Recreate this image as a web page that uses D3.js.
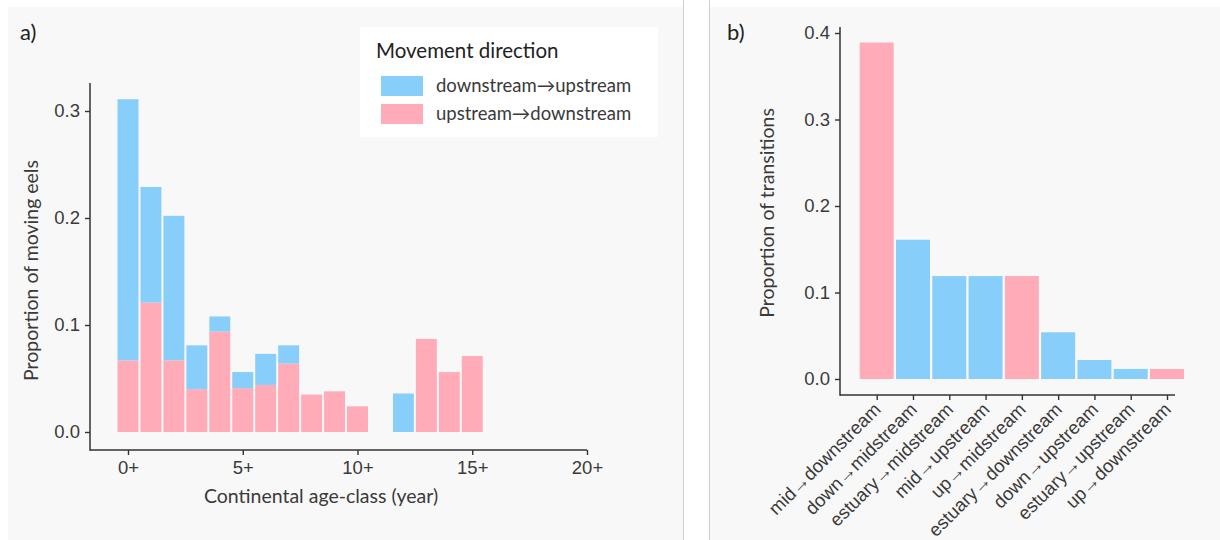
<!DOCTYPE html>
<html>
<head>
<meta charset="utf-8">
<script src="https://cdn.jsdelivr.net/npm/d3@7"></script>
<style>
  html, body { margin: 0; padding: 0; background: #ffffff; }
  svg { display: block; font-family: Lato, "Open Sans", sans-serif; }
  .axis text { fill: #3a3a3a; font-size: 18.5px; }
  .axis line { stroke: #333; stroke-width: 1.4; }
</style>
</head>
<body>
<svg id="chart" width="1220" height="540"></svg>
<script>
// panel a data: continental age-class and stacked proportions
const ageClasses = [0, 1, 2, 3, 4, 5, 6, 7, 8, 9, 10, 11, 12, 13, 14, 15];
const upToDown = [0.067, 0.121, 0.067, 0.040, 0.094, 0.041, 0.044, 0.064, 0.035, 0.038, 0.024, 0, 0, 0.087, 0.056, 0.071];
const downToUp = [0.244, 0.108, 0.135, 0.041, 0.014, 0.015, 0.029, 0.017, 0, 0, 0, 0, 0.036, 0, 0, 0];
const ageTicks = [0, 5, 10, 15, 20];
const yTicksA = [0, 0.1, 0.2, 0.3];

// panel b data: transitions
const transitions = ['mid\u2192downstream', 'down\u2192midstream', 'estuary\u2192midstream', 'mid\u2192upstream',
    'up\u2192midstream', 'estuary\u2192downstream', 'down\u2192upstream', 'estuary\u2192upstream', 'up\u2192downstream'];
const transitionProps = [0.389, 0.161, 0.119, 0.119, 0.119, 0.054, 0.022, 0.0116, 0.0116];
const transitionDir = ['down', 'up', 'up', 'up', 'down', 'up', 'up', 'up', 'down'];
const yTicksB = [0, 0.1, 0.2, 0.3, 0.4];

const legendLabels = ['downstream\u2192upstream', 'upstream\u2192downstream'];

const blue = '#87cefa',
    pink = '#ffabb8';

const svg = d3.select('#chart');

// backgrounds
svg.append('rect').attr('x', 8).attr('y', 7).attr('width', 675).attr('height', 533).attr('fill', '#f8f8f8');
svg.append('rect').attr('x', 710).attr('y', 7).attr('width', 510).attr('height', 533).attr('fill', '#f8f8f8');
svg.append('line').attr('x1', 683.5).attr('x2', 683.5).attr('y1', 0).attr('y2', 540).attr('stroke', '#cfcfcf');
svg.append('line').attr('x1', 709.5).attr('x2', 709.5).attr('y1', 0).attr('y2', 540).attr('stroke', '#cfcfcf');

// ---------- panel a ----------
const pa = { left: 90, right: 587, top: 83, bottom: 450 };
const xA = d3.scaleLinear().domain([0, 20]).range([128, 587]);
const yA = d3.scaleLinear().domain([0, 0.3]).range([432, 111]);

const ga = svg.append('g');

ga.selectAll('rect.pink')
    .data(ageClasses.filter((d, i) => upToDown[i] > 0))
    .join('rect')
    .attr('class', 'pink')
    .attr('x', d => xA(d - 0.5) + 1)
    .attr('width', d => xA(d + 0.5) - xA(d - 0.5) - 2)
    .attr('y', d => yA(upToDown[d]))
    .attr('height', d => yA(0) - yA(upToDown[d]))
    .attr('fill', pink);

ga.selectAll('rect.blue')
    .data(ageClasses.filter((d, i) => downToUp[i] > 0))
    .join('rect')
    .attr('class', 'blue')
    .attr('x', d => xA(d - 0.5) + 1)
    .attr('width', d => xA(d + 0.5) - xA(d - 0.5) - 2)
    .attr('y', d => yA(upToDown[d] + downToUp[d]))
    .attr('height', d => yA(upToDown[d]) - yA(upToDown[d] + downToUp[d]))
    .attr('fill', blue);

ga.append('g').attr('class', 'axis')
    .attr('transform', `translate(${pa.left},0)`)
    .call(d3.axisLeft(yA).tickValues(yTicksA).tickFormat(d3.format('.1f')).tickSize(5).tickPadding(5))
    .call(g => g.select('.domain').remove());

ga.append('g').attr('class', 'axis')
    .attr('transform', `translate(0,${pa.bottom})`)
    .call(d3.axisBottom(xA).tickValues(ageTicks).tickFormat(d => d + '+').tickSize(5).tickPadding(6))
    .call(g => g.select('.domain').remove());

ga.append('line').attr('x1', pa.left).attr('x2', pa.left).attr('y1', pa.top).attr('y2', pa.bottom + 0.7)
    .attr('stroke', '#333').attr('stroke-width', 1.5);
ga.append('line').attr('x1', pa.left).attr('x2', pa.right).attr('y1', pa.bottom).attr('y2', pa.bottom)
    .attr('stroke', '#333').attr('stroke-width', 1.5);

ga.append('text')
    .attr('transform', `translate(38,${(pa.top + pa.bottom) / 2 + 4}) rotate(-90)`)
    .attr('text-anchor', 'middle')
    .attr('fill', '#3a3a3a').attr('font-size', 19.5)
    .text('Proportion of moving eels');

ga.append('text')
    .attr('x', 321).attr('y', 503)
    .attr('text-anchor', 'middle')
    .attr('fill', '#3a3a3a').attr('font-size', 19.5)
    .text('Continental age-class (year)');

ga.append('text').attr('x', 20).attr('y', 40).attr('font-size', 22).attr('fill', '#222').text('a)');

// legend
const lg = svg.append('g');
lg.append('rect').attr('x', 360).attr('y', 27).attr('width', 298).attr('height', 110).attr('fill', '#ffffff');
lg.append('text').attr('x', 376).attr('y', 58).attr('font-size', 20.5).attr('fill', '#222').text('Movement direction');
lg.selectAll('rect.key')
    .data(legendLabels)
    .join('rect')
    .attr('class', 'key')
    .attr('x', 381).attr('y', (d, i) => 76 + i * 28)
    .attr('width', 42).attr('height', 20)
    .attr('fill', (d, i) => i === 0 ? blue : pink);
lg.selectAll('text.lab')
    .data(legendLabels)
    .join('text')
    .attr('class', 'lab')
    .attr('x', 436).attr('y', (d, i) => 92 + i * 28)
    .attr('font-size', 18.5).attr('fill', '#3a3a3a')
    .text(d => d);

// ---------- panel b ----------
const pb = { left: 840, right: 1175, top: 27, bottom: 395 };
const xB = d3.scalePoint().domain(transitions).range([876.7, 1167]);
const yB = d3.scaleLinear().domain([0, 0.4]).range([379, 33]);
const bw = 34;

const gb = svg.append('g');

gb.selectAll('rect.bar')
    .data(transitions)
    .join('rect')
    .attr('class', 'bar')
    .attr('x', d => xB(d) - bw / 2)
    .attr('width', bw)
    .attr('y', (d, i) => yB(transitionProps[i]))
    .attr('height', (d, i) => yB(0) - yB(transitionProps[i]))
    .attr('fill', (d, i) => transitionDir[i] === 'down' ? pink : blue);

gb.append('g').attr('class', 'axis')
    .attr('transform', `translate(${pb.left},0)`)
    .call(d3.axisLeft(yB).tickValues(yTicksB).tickFormat(d3.format('.1f')).tickSize(5).tickPadding(5))
    .call(g => g.select('.domain').remove());

const xAxisB = gb.append('g').attr('class', 'axis')
    .attr('transform', `translate(0,${pb.bottom})`)
    .call(d3.axisBottom(xB).tickSize(5).tickPadding(6))
    .call(g => g.select('.domain').remove());

xAxisB.selectAll('text')
    .attr('text-anchor', 'end')
    .attr('font-size', 16)
    .attr('y', 0)
    .attr('dy', '0.35em')
    .attr('transform', 'translate(0,11) rotate(-45)');

gb.append('line').attr('x1', pb.left).attr('x2', pb.left).attr('y1', pb.top).attr('y2', pb.bottom + 0.7)
    .attr('stroke', '#333').attr('stroke-width', 1.5);
gb.append('line').attr('x1', pb.left).attr('x2', pb.right).attr('y1', pb.bottom).attr('y2', pb.bottom)
    .attr('stroke', '#333').attr('stroke-width', 1.5);

gb.append('text')
    .attr('transform', `translate(774,213) rotate(-90)`)
    .attr('text-anchor', 'middle')
    .attr('fill', '#3a3a3a').attr('font-size', 19.5)
    .text('Proportion of transitions');

gb.append('text').attr('x', 727).attr('y', 40).attr('font-size', 22).attr('fill', '#222').text('b)');
</script>
</body>
</html>
